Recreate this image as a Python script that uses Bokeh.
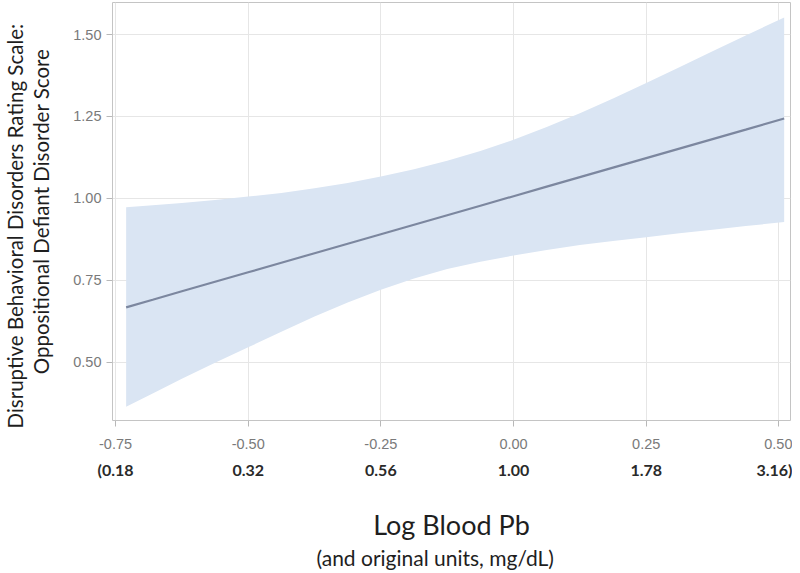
from bokeh.plotting import figure
from bokeh.models import (ColumnDataSource, Range1d, LinearAxis, FixedTicker,
                          Band, Title)
from bokeh.embed import file_html
from bokeh.resources import INLINE

# ---- data ----
log_pb = [-0.73, -0.68, -0.625, -0.5625, -0.50, -0.4375, -0.375, -0.3125, -0.25, -0.1875,
          -0.125, -0.0625, 0.00, 0.0625, 0.125, 0.1875, 0.25, 0.3125, 0.375, 0.4375, 0.51]
fit = [0.668, 0.691, 0.717, 0.746, 0.775, 0.804, 0.833, 0.862, 0.891, 0.920,
       0.949, 0.978, 1.007, 1.036, 1.065, 1.094, 1.123, 1.152, 1.181, 1.210, 1.244]
upper = [0.973, 0.979, 0.986, 0.995, 1.006, 1.017, 1.031, 1.047, 1.067, 1.089,
         1.115, 1.145, 1.179, 1.218, 1.260, 1.305, 1.352, 1.400, 1.449, 1.497, 1.552]
lower = [0.365, 0.405, 0.450, 0.499, 0.546, 0.594, 0.640, 0.683, 0.722, 0.756,
         0.785, 0.807, 0.826, 0.843, 0.858, 0.870, 0.882, 0.894, 0.905, 0.916, 0.928]

x_ticks = [-0.75, -0.50, -0.25, 0.00, 0.25, 0.50]
x_tick_labels = ["-0.75", "-0.50", "-0.25", "0.00", "0.25", "0.50"]
orig_unit_labels = ["(0.18", "0.32", "0.56", "1.00", "1.78", "3.16)"]
y_ticks = [0.50, 0.75, 1.00, 1.25, 1.50]
y_tick_labels = ["0.50", "0.75", "1.00", "1.25", "1.50"]

y_title_1 = "Disruptive Behavioral Disorders Rating Scale:"
y_title_2 = "Oppositional Defiant Disorder Score"
x_title = "Log Blood Pb"
x_subtitle = "(and original units, mg/dL)"

src = ColumnDataSource(dict(x=log_pb, fit=fit, upper=upper, lower=lower))

p = figure(frame_width=678, frame_height=418, output_backend="svg", toolbar_location=None,
           x_range=Range1d(-0.7557, 0.5219), y_range=Range1d(0.323, 1.5976),
           min_border_left=112, min_border_right=2, min_border_top=2,
           min_border_bottom=20)
p.background_fill_color = "white"
p.border_fill_color = "white"
p.outline_line_color = "#c4c4c4"
p.outline_line_width = 1

band = Band(base="x", lower="lower", upper="upper", source=src,
            fill_color="#dae5f3", fill_alpha=1.0, line_color=None, level="underlay")
p.add_layout(band)
p.line("x", "fit", source=src, line_color="#7c879f", line_width=2.2)

grid_col = "#e6e6e6"
p.xgrid.grid_line_color = grid_col
p.ygrid.grid_line_color = grid_col
p.xgrid.level = "underlay"
p.ygrid.level = "underlay"

tick_font = "Liberation Sans"
tick_col = "#7a7a7a"
title_col = "#1e1e1e"

# main x axis
xa = p.xaxis[0]
xa.ticker = FixedTicker(ticks=x_ticks)
xa.major_label_overrides = {t: l for t, l in zip(x_ticks, x_tick_labels)}
xa.axis_line_color = None
xa.major_tick_line_color = "#b8b8b8"
xa.major_tick_out = 6
xa.major_tick_in = 0
xa.minor_tick_line_color = None
xa.major_label_text_font = tick_font
xa.major_label_text_font_size = "14.5px"
xa.major_label_text_color = tick_col
xa.major_label_standoff = 12

# second x axis: original units, carrying the x title
xa2 = LinearAxis(ticker=FixedTicker(ticks=x_ticks))
xa2.major_label_overrides = {t: l for t, l in zip(x_ticks, orig_unit_labels)}
xa2.axis_line_color = None
xa2.major_tick_line_color = None
xa2.minor_tick_line_color = None
xa2.major_tick_out = 0
xa2.major_tick_in = 0
xa2.major_label_text_font = "Lato"
xa2.major_label_text_font_size = "16px"
xa2.major_label_text_font_style = "bold"
xa2.major_label_text_color = "#2a2a2a"
xa2.major_label_standoff = 8
xa2.axis_label = x_title
xa2.axis_label_text_font = "Lato"
xa2.axis_label_text_font_size = "27px"
xa2.axis_label_text_font_style = "normal"
xa2.axis_label_text_color = title_col
xa2.axis_label_standoff = 26
p.add_layout(xa2, "below")

t_sub = Title(text=x_subtitle, align="left", offset=204, vertical_align="top",
              text_font="Lato", text_font_size="21px", text_font_style="normal",
              text_color=title_col, standoff=2)
p.add_layout(t_sub, "below")

# y axis, carrying the second line of the y title
ya = p.yaxis[0]
ya.ticker = FixedTicker(ticks=y_ticks)
ya.major_label_overrides = {t: l for t, l in zip(y_ticks, y_tick_labels)}
ya.axis_line_color = None
ya.major_tick_line_color = "#b8b8b8"
ya.major_tick_out = 6
ya.major_tick_in = 0
ya.minor_tick_line_color = None
ya.major_label_text_font = tick_font
ya.major_label_text_font_size = "14.5px"
ya.major_label_text_color = tick_col
ya.major_label_standoff = 5
ya.axis_label = y_title_2
ya.axis_label_text_font = "Lato"
ya.axis_label_text_font_size = "20.5px"
ya.axis_label_text_font_style = "normal"
ya.axis_label_text_color = title_col
ya.axis_label_standoff = 17

t_y1 = Title(text=y_title_1, align="left", offset=-8, vertical_align="bottom",
             text_font="Lato", text_font_size="20.5px", text_font_style="normal",
             text_color=title_col, standoff=0)
p.add_layout(t_y1, "left")

open("out.html", "w").write(file_html(p, INLINE))
